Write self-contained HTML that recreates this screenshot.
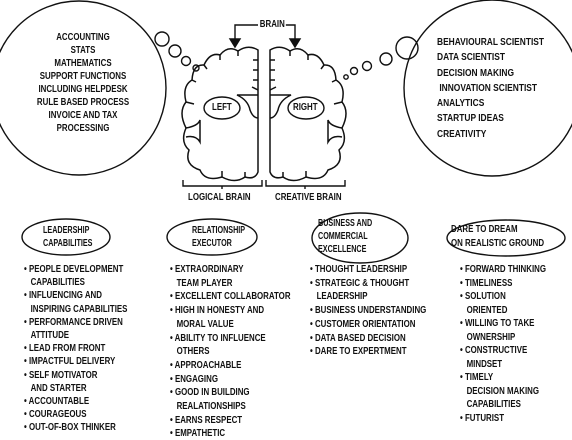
<!DOCTYPE html>
<html><head><meta charset="utf-8"><style>
html,body{margin:0;padding:0;background:#fff;}
#w{position:relative;width:572px;height:440px;overflow:hidden;font-family:"Liberation Sans",sans-serif;font-weight:bold;font-size:10px;color:#111;}
svg{position:absolute;left:0;top:0;}
.t{position:absolute;white-space:nowrap;line-height:12px;transform:scaleX(0.79);transform-origin:0 50%;}
.h{transform:scaleX(0.72);}
.c{position:absolute;white-space:nowrap;line-height:12px;text-align:center;transform:scaleX(0.79);}
</style></head><body><div id="w">
<svg width="572" height="440" viewBox="0 0 572 440" fill="none" stroke="#111" stroke-width="1.4">
<circle cx="79" cy="88" r="87"/>
<circle cx="492" cy="88" r="88"/>
<circle cx="162" cy="39" r="7" fill="#fff"/>
<circle cx="175" cy="51" r="6" fill="#fff"/>
<circle cx="186" cy="61" r="4.5" fill="#fff"/>
<circle cx="196" cy="68" r="3" fill="#fff"/>
<circle cx="407" cy="48" r="11"/>
<circle cx="386" cy="59" r="6" fill="#fff"/>
<circle cx="367" cy="66" r="4.5" fill="#fff"/>
<circle cx="354" cy="71" r="3.5" fill="#fff"/>
<circle cx="346" cy="77" r="2.2" fill="#fff"/>
<g id="hemi" stroke-width="1.5">
<path d="M258,168 V50 Q248,44 238,51 Q228,45 220,55 Q210,52 204,65 Q193,64 192,80 Q182,86 186,102 Q178,112 186,128 Q180,142 189,150 Q184,165 200,170 Q205,182 222,177 Q235,184 245,177 Q255,180 258,172 Z"/>
<path d="M258,60 h-5 M258,70 h-5 M258,80 h-5 M238,51 v5 M220,55 v5 M204,65 l3,4 M192,80 l4,2 M186,102 l8,2 M222,177 v-6 M245,177 v-5"/>
<path d="M258,95 H237 Q248,100 250,110 Q253,118 258,118"/>
<path d="M186,128 Q198,126 200,120 V142 Q196,135 186,137"/>
<path d="M258,90 l-6,-3"/>
</g>
<use href="#hemi" transform="translate(528,0) scale(-1,1)"/>
<ellipse cx="222" cy="108" rx="18" ry="11"/>
<ellipse cx="306" cy="108" rx="18" ry="11"/>
<path d="M258,25 H235 V40 M278,25 H295 V40"/>
<path d="M230,39 L240,39 L235,47 Z M290,39 L300,39 L295,47 Z" fill="#111"/>
<path d="M183,180 V186 H262 V180 M222,186 v3 M266,180 V186 H345 V180 M305,186 v3"/>
<ellipse cx="66" cy="237" rx="44" ry="18"/>
<ellipse cx="212" cy="237" rx="45" ry="18"/>
<ellipse cx="360" cy="238" rx="48" ry="25"/>
<ellipse cx="506" cy="238" rx="59" ry="18"/>
</svg>
<div class="c" style="left:0;width:166px;top:31px;line-height:13px">ACCOUNTING<br>STATS<br>MATHEMATICS<br>SUPPORT FUNCTIONS<br>INCLUDING HELPDESK<br>RULE BASED PROCESS<br>INVOICE AND TAX<br>PROCESSING</div>
<div class="t" style="left:437px;top:35px;line-height:15.3px;transform:scaleX(0.84)">BEHAVIOURAL SCIENTIST<br>DATA SCIENTIST<br>DECISION MAKING<br>&nbsp;INNOVATION SCIENTIST<br>ANALYTICS<br>STARTUP IDEAS<br>CREATIVITY</div>
<div class="t" style="left:259px;top:19px;background:#fff;padding:0 1px">BRAIN</div>
<div class="t" style="left:212px;top:102px">LEFT</div>
<div class="t" style="left:293px;top:102px">RIGHT</div>
<div class="t" style="left:188px;top:192px">LOGICAL BRAIN</div>
<div class="t" style="left:275px;top:192px">CREATIVE BRAIN</div>
<div class="t h" style="left:43px;top:224px;line-height:13px">LEADERSHIP<br>CAPABILITIES</div>
<div class="t h" style="left:192px;top:224px;line-height:13px">RELATIONSHIP<br>EXECUTOR</div>
<div class="t h" style="left:318px;top:217px;line-height:13px">BUSINESS AND<br>COMMERCIAL<br>EXCELLENCE</div>
<div class="t" style="left:451px;top:223px;line-height:14px">DARE TO DREAM<br>ON REALISTIC GROUND</div>
<div class="t" style="left:24px;top:263px;line-height:13.2px">• PEOPLE DEVELOPMENT<br>&nbsp;&nbsp;&nbsp;CAPABILITIES<br>• INFLUENCING AND<br>&nbsp;&nbsp;&nbsp;INSPIRING CAPABILITIES<br>• PERFORMANCE DRIVEN<br>&nbsp;&nbsp;&nbsp;ATTITUDE<br>• LEAD FROM FRONT<br>• IMPACTFUL DELIVERY<br>• SELF MOTIVATOR<br>&nbsp;&nbsp;&nbsp;AND STARTER<br>• ACCOUNTABLE<br>• COURAGEOUS<br>• OUT-OF-BOX THINKER</div>
<div class="t" style="left:170px;top:263px;line-height:13.7px">• EXTRAORDINARY<br>&nbsp;&nbsp;&nbsp;TEAM PLAYER<br>• EXCELLENT COLLABORATOR<br>• HIGH IN HONESTY AND<br>&nbsp;&nbsp;&nbsp;MORAL VALUE<br>• ABILITY TO INFLUENCE<br>&nbsp;&nbsp;&nbsp;OTHERS<br>• APPROACHABLE<br>• ENGAGING<br>• GOOD IN BUILDING<br>&nbsp;&nbsp;&nbsp;REALATIONSHIPS<br>• EARNS RESPECT<br>• EMPATHETIC</div>
<div class="t" style="left:310px;top:263px;line-height:13.7px">• THOUGHT LEADERSHIP<br>• STRATEGIC &amp; THOUGHT<br>&nbsp;&nbsp;&nbsp;LEADERSHIP<br>• BUSINESS UNDERSTANDING<br>• CUSTOMER ORIENTATION<br>• DATA BASED DECISION<br>• DARE TO EXPERTMENT</div>
<div class="t" style="left:460px;top:263px;line-height:13.5px">• FORWARD THINKING<br>• TIMELINESS<br>• SOLUTION<br>&nbsp;&nbsp;&nbsp;ORIENTED<br>• WILLING TO TAKE<br>&nbsp;&nbsp;&nbsp;OWNERSHIP<br>• CONSTRUCTIVE<br>&nbsp;&nbsp;&nbsp;MINDSET<br>• TIMELY<br>&nbsp;&nbsp;&nbsp;DECISION MAKING<br>&nbsp;&nbsp;&nbsp;CAPABILITIES<br>• FUTURIST</div>
</div></body></html>
